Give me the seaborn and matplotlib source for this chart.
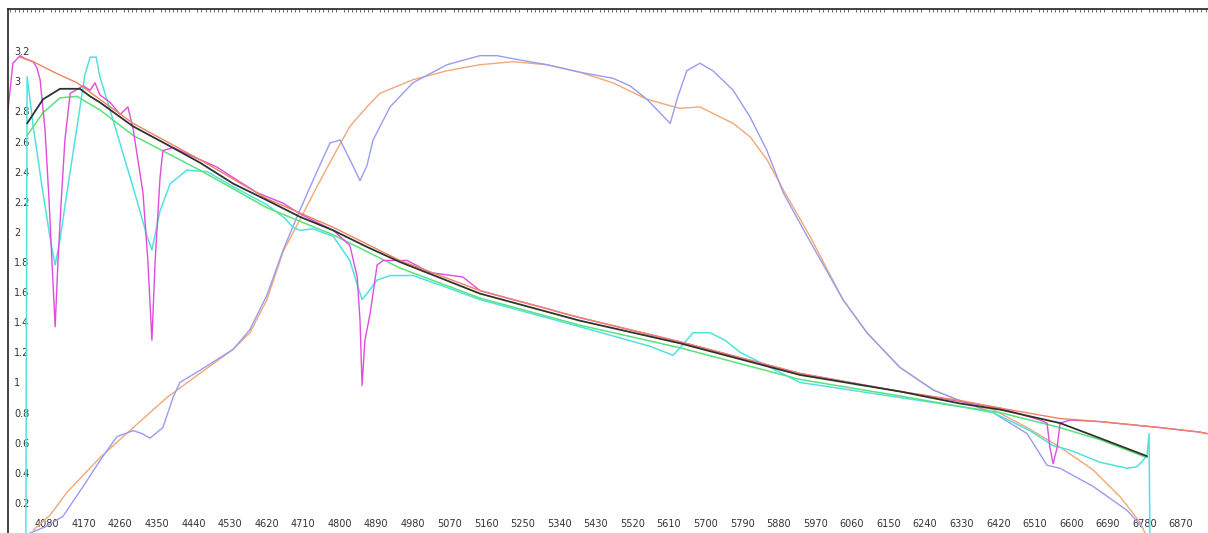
import matplotlib
matplotlib.use("Agg")
import matplotlib.pyplot as plt
from matplotlib.ticker import MultipleLocator, FuncFormatter
import numpy as np
import seaborn as sns

# wavelength (Angstrom) / relative flux pairs
orange_wl = [4046, 4088, 4129, 4210, 4292, 4375, 4456, 4538, 4579, 4621, 4661, 4702, 4744, 4784,
             4825, 4867, 4899, 4980, 5064, 5145, 5226, 5310, 5391, 5472, 5556, 5637, 5686, 5768,
             5810, 5851, 5891, 5957, 6038, 6097, 6178, 6260, 6343, 6407, 6491, 6572, 6653, 6720,
             6769, 6781]
orange_flux = [0.02, 0.12, 0.27, 0.50, 0.70, 0.90, 1.06, 1.22, 1.33, 1.55, 1.87, 2.08, 2.30, 2.50,
               2.70, 2.83, 2.92, 3.01, 3.07, 3.11, 3.13, 3.11, 3.06, 2.99, 2.88, 2.82, 2.83, 2.72,
               2.63, 2.48, 2.28, 1.97, 1.55, 1.33, 1.10, 0.95, 0.86, 0.82, 0.70, 0.57, 0.42, 0.24,
               0.07, 0.00]

blue_wl = [4038, 4075, 4119, 4169, 4210, 4252, 4292, 4314, 4333, 4365, 4390, 4407, 4456, 4538,
           4579, 4621, 4661, 4695, 4734, 4776, 4801, 4825, 4850, 4867, 4882, 4924, 4980, 5064,
           5145, 5187, 5226, 5310, 5391, 5472, 5514, 5556, 5588, 5613, 5632, 5654, 5686, 5718,
           5768, 5810, 5851, 5891, 5950, 6038, 6097, 6178, 6260, 6343, 6407, 6491, 6540, 6572,
           6653, 6737, 6774]
blue_flux = [0.00, 0.04, 0.11, 0.31, 0.48, 0.64, 0.68, 0.66, 0.63, 0.70, 0.90, 1.00, 1.08, 1.22,
             1.35, 1.58, 1.88, 2.10, 2.34, 2.59, 2.61, 2.48, 2.34, 2.44, 2.61, 2.83, 2.99, 3.11,
             3.17, 3.17, 3.15, 3.11, 3.06, 3.02, 2.97, 2.88, 2.79, 2.72, 2.90, 3.07, 3.12, 3.07,
             2.94, 2.76, 2.54, 2.26, 1.97, 1.55, 1.33, 1.10, 0.95, 0.86, 0.80, 0.66, 0.45, 0.43,
             0.31, 0.15, 0.04]

cyan_wl = [4028, 4031, 4038, 4046, 4070, 4088, 4100, 4112, 4129, 4154, 4173, 4186, 4201, 4210,
           4235, 4267, 4301, 4326, 4338, 4358, 4383, 4424, 4474, 4538, 4621, 4665, 4685, 4702,
           4734, 4784, 4825, 4843, 4855, 4870, 4892, 4924, 4980, 5064, 5145, 5391, 5563, 5620,
           5644, 5669, 5711, 5748, 5785, 5932, 6055, 6178, 6326, 6407, 6498, 6555, 6597, 6670,
           6737, 6761, 6776, 6786, 6791, 6793]
cyan_flux = [0.00, 3.03, 2.88, 2.70, 2.26, 1.95, 1.78, 1.95, 2.26, 2.70, 3.04, 3.16, 3.16, 3.03,
             2.81, 2.52, 2.21, 1.97, 1.88, 2.14, 2.32, 2.41, 2.40, 2.30, 2.18, 2.09, 2.03, 2.01,
             2.02, 1.97, 1.81, 1.65, 1.55, 1.60, 1.68, 1.71, 1.71, 1.63, 1.55, 1.37, 1.24, 1.18,
             1.25, 1.33, 1.33, 1.28, 1.20, 1.00, 0.95, 0.90, 0.84, 0.80, 0.68, 0.58, 0.55, 0.47,
             0.43, 0.44, 0.48, 0.52, 0.66, 0.00]

green_wl = [4031, 4070, 4112, 4154, 4178, 4210, 4292, 4456, 4621, 4784, 4948, 5145, 5391, 5637,
            5932, 6178, 6326, 6424, 6572, 6670, 6786]
green_flux = [2.64, 2.79, 2.89, 2.90, 2.86, 2.81, 2.64, 2.41, 2.16, 1.98, 1.76, 1.56, 1.38, 1.23,
              1.02, 0.91, 0.84, 0.80, 0.70, 0.62, 0.50]

magenta_wl = [3984, 3996, 4014, 4026, 4046, 4055, 4063, 4075, 4085, 4092, 4100, 4107, 4115, 4124,
              4137, 4169, 4186, 4198, 4210, 4235, 4260, 4279, 4292, 4316, 4328, 4338, 4346, 4358,
              4365, 4390, 4439, 4498, 4538, 4597, 4661, 4702, 4784, 4825, 4843, 4850, 4855, 4862,
              4875, 4892, 4907, 4966, 5022, 5103, 5145, 5226, 5310, 5349, 5391, 5637, 5932, 6178,
              6424, 6523, 6540, 6547, 6555, 6565, 6572, 6597, 6670, 6818, 6916, 6934]
magenta_flux = [2.81, 3.12, 3.17, 3.15, 3.13, 3.09, 3.01, 2.68, 2.21, 1.81, 1.37, 1.81, 2.21, 2.61,
                2.92, 2.97, 2.94, 2.99, 2.91, 2.86, 2.78, 2.83, 2.68, 2.26, 1.81, 1.28, 1.81, 2.36,
                2.54, 2.56, 2.50, 2.43, 2.36, 2.26, 2.19, 2.12, 2.01, 1.91, 1.70, 1.41, 0.98, 1.28,
                1.46, 1.78, 1.81, 1.81, 1.73, 1.70, 1.61, 1.55, 1.49, 1.46, 1.43, 1.27, 1.06, 0.94,
                0.83, 0.75, 0.73, 0.57, 0.46, 0.57, 0.73, 0.75, 0.74, 0.70, 0.67, 0.66]

red_wl = [4014, 4046, 4105, 4154, 4210, 4292, 4456, 4621, 4784, 4948, 5145, 5391, 5637, 5932,
          6178, 6326, 6424, 6572, 6670, 6818, 6916, 6934]
red_flux = [3.16, 3.13, 3.05, 2.99, 2.88, 2.72, 2.48, 2.22, 2.03, 1.81, 1.61, 1.43, 1.27, 1.06,
            0.94, 0.88, 0.83, 0.76, 0.74, 0.70, 0.67, 0.66]

black_wl = [4031, 4070, 4112, 4161, 4186, 4210, 4292, 4375, 4456, 4538, 4621, 4702, 4784, 4867,
            4948, 5145, 5391, 5637, 5932, 6178, 6326, 6424, 6572, 6670, 6786]
black_flux = [2.72, 2.88, 2.95, 2.95, 2.90, 2.86, 2.70, 2.58, 2.46, 2.32, 2.21, 2.10, 2.01, 1.90,
              1.80, 1.59, 1.41, 1.26, 1.05, 0.94, 0.86, 0.82, 0.73, 0.63, 0.51]

x_ticks = list(range(4080, 6871, 90))
y_ticks = [0.2, 0.4, 0.6, 0.8, 1.0, 1.2, 1.4, 1.6, 1.8, 2.0, 2.2, 2.4, 2.6, 2.8, 3.0, 3.2]

sns.set_style("white")
plt.rcParams["font.family"] = ["DejaVu Sans"]

fig = plt.figure(figsize=(12.08, 5.33), dpi=100)
ax = fig.add_axes([8 / 1208, 0, 1200 / 1208, 524 / 533])

series = [
    (orange_wl, orange_flux, "#f2a878", 1.0),
    (blue_wl, blue_flux, "#9a9cf0", 1.0),
    (cyan_wl, cyan_flux, "#4fe3e0", 1.1),
    (green_wl, green_flux, "#5be27a", 1.1),
    (magenta_wl, magenta_flux, "#e04ce0", 1.0),
    (red_wl, red_flux, "#f08262", 1.0),
    (black_wl, black_flux, "#2e332e", 1.3),
]
for wl, flux, col, lw in series:
    sns.lineplot(x=wl, y=flux, ax=ax, color=col, linewidth=lw, sort=False, estimator=None)

ax.set_xlim(3984, 6936)
ax.set_ylim(0, 3.48)
ax.set_xticks(x_ticks)
ax.set_yticks(y_ticks)
ax.yaxis.set_major_formatter(FuncFormatter(lambda v, p: f"{v:g}"))
ax.yaxis.set_minor_locator(MultipleLocator(0.02))
ax.xaxis.set_minor_locator(MultipleLocator(10))

ax.tick_params(axis="y", which="major", direction="in", length=4, width=0.8,
               pad=-4.5, labelsize=7, labelcolor="#333333", color="#333333")
ax.tick_params(axis="y", which="minor", direction="in", length=2, width=0.6, color="#333333")
ax.tick_params(axis="x", which="major", direction="in", length=3, width=0.8, top=False,
               pad=-10, labelsize=7, labelcolor="#333333", color="#555555")
ax.tick_params(axis="x", which="minor", direction="in", length=2, width=0.5,
               top=True, bottom=False, color="#333333")
for lbl in ax.get_yticklabels():
    lbl.set_horizontalalignment("left")

for side in ["left", "top"]:
    ax.spines[side].set_color("#222222")
    ax.spines[side].set_linewidth(1.2)
ax.spines["right"].set_visible(False)
ax.spines["bottom"].set_visible(False)
ax.set_xlabel("")
ax.set_ylabel("")

fig.savefig("out.png", dpi=100)
